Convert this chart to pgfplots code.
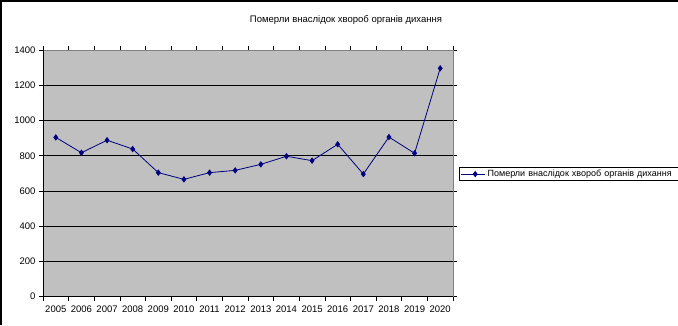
\documentclass[border=0pt]{standalone}
\usepackage{pgfplots}
\pgfplotsset{compat=1.18}
\usepackage{fontspec}
\setmainfont{Liberation Sans}

\definecolor{plotgray}{RGB}{192,192,192}
\definecolor{framegray}{RGB}{128,128,128}
\definecolor{seriesnavy}{RGB}{0,0,128}

\begin{document}
\begin{tikzpicture}[x=1bp,y=1bp]
  \useasboundingbox (0,0) rectangle (678,325);
  % chart area border (top and left edges)
  \draw[black, line width=1.5bp] (1,0) -- (1,324.2) -- (678,324.2);
  % chart title
  \node[font=\fontsize{9.5bp}{11bp}\selectfont] at (346,305) {Померли внаслідок хвороб органів дихання};
  \begin{axis}[
    at={(43bp,28.3bp)}, anchor=south west,
    scale only axis, width=410bp, height=246.7bp,
    xmin=0, xmax=16, ymin=0, ymax=1400,
    axis background/.style={fill=plotgray},
    axis line style={draw=framegray, line width=0.8bp},
    xtick={0.5,1.5,...,15.5},
    xticklabels={2005,2006,2007,2008,2009,2010,2011,2012,2013,2014,2015,2016,2017,2018,2019,2020},
    minor xtick={0,1,...,16},
    major x tick style={draw=none},
    minor x tick style={black, line width=0.6bp},
    ytick={0,200,...,1400},
    major y tick style={black, line width=0.6bp},
    tick align=outside,
    major tick length=4bp, minor tick length=4bp,
    ymajorgrids,
    grid style={black, line width=0.7bp},
    tick label style={font=\fontsize{9.5bp}{11bp}\selectfont, /pgf/number format/assume math mode=true},
    yticklabel style={/pgf/number format/1000 sep={}},
    xticklabel style={yshift=-2bp},
    clip=false,
    legend style={at={(1,0.497)}, anchor=west, xshift=6bp, draw=black, line width=0.6bp,
      font=\fontsize{9bp}{11bp}\selectfont, inner sep=1.5bp, text width=210bp,
      nodes={inner sep=1bp},
      /tikz/every odd column/.append style={column sep=1bp}},
    legend image code/.code={%
      \path (0bp,0bp) -- (24bp,0bp);
      \draw[#1] (4bp,0bp) -- (24bp,0bp);
      \draw[#1, mark repeat=2, mark phase=2] plot coordinates {(4bp,0bp) (14bp,0bp) (24bp,0bp)};},
  ]
    \addplot[seriesnavy, line width=0.8bp, mark=diamond*, mark size=2.6bp,
      mark options={fill=seriesnavy, draw=seriesnavy}]
      coordinates {
        (0.5,904) (1.5,817) (2.5,888) (3.5,838) (4.5,704) (5.5,666)
        (6.5,704) (7.5,717) (8.5,751) (9.5,797) (10.5,772) (11.5,865)
        (12.5,696) (13.5,906) (14.5,814) (15.5,1296)
      };
    \addlegendentry{Померли внаслідок хвороб органів дихання}
  \end{axis}
  % black value and category axis lines
  \draw[black, line width=0.8bp] (43,275) -- (43,28.3) -- (453,28.3);
\end{tikzpicture}
\end{document}
